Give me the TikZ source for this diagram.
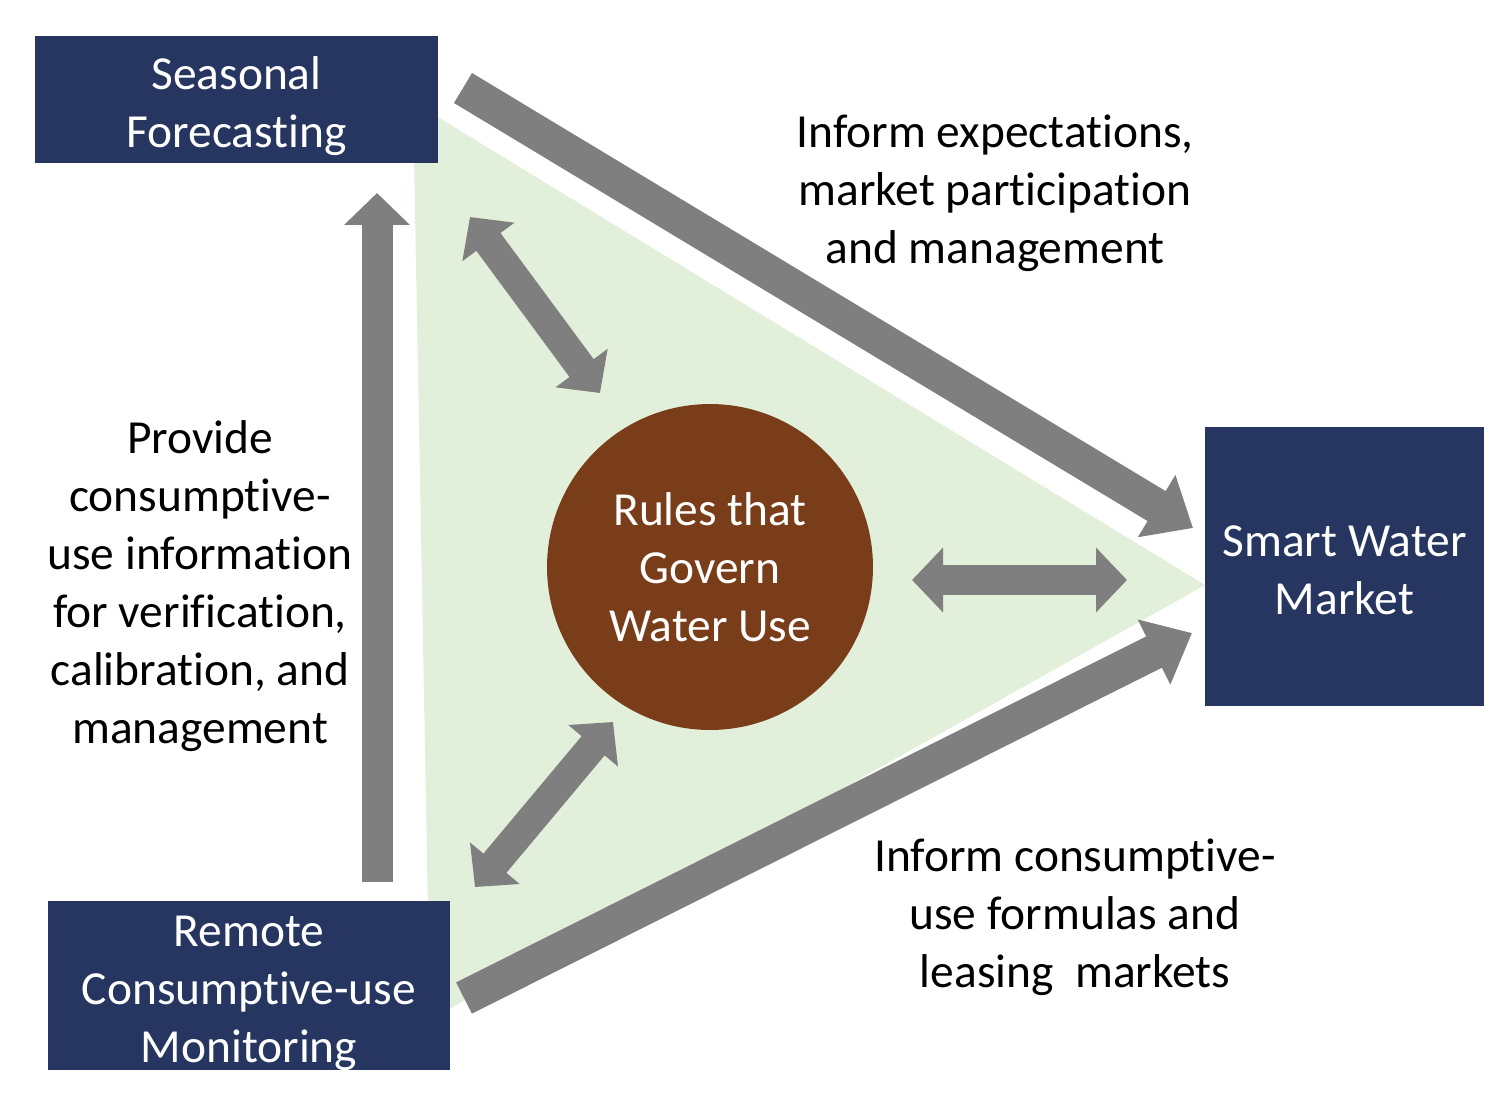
\documentclass[tikz,border=0pt]{standalone}
\usepackage{fontspec}
\setmainfont[Ligatures=NoCommon]{Carlito}
\usetikzlibrary{arrows.meta}
\definecolor{navy}{RGB}{38,54,96}
\definecolor{rulebrown}{RGB}{121,61,26}
\definecolor{palegreen}{RGB}{226,239,218}
\definecolor{arrowgray}{RGB}{127,127,127}
\newcommand{\lowtext}{\rule{0pt}{26pt}}
\begin{document}
\begin{tikzpicture}[x=0.02cm, y=-0.02cm,
  box/.style={rectangle, fill=navy, text=white, inner sep=0pt, align=center, font=\fontsize{27}{33}\selectfont},
  lbl/.style={align=center, inner sep=0pt, font=\fontsize{27}{33}\selectfont},
  bigarrow/.style={arrowgray, line width=0.7cm, -{Triangle[width=1.4cm, length=0.85cm]}},
  uparrow/.style={arrowgray, line width=0.62cm, -{Triangle[width=1.28cm, length=0.64cm]}},
  twoway/.style={arrowgray, line width=0.6cm, {Triangle[width=1.26cm, length=0.62cm]}-{Triangle[width=1.26cm, length=0.62cm]}}]
\useasboundingbox (0,0) rectangle (1511,1092);
\fill[palegreen] (413,102) -- (1205,585) -- (430,1020) -- cycle;
\node[box, minimum width=8.06cm, minimum height=2.54cm] (sf) at (236.5,99.5){\lowtext Seasonal\\Forecasting};
\node[box, minimum width=5.58cm, minimum height=5.58cm] (swm) at (1344.5,566.5){\rule{0pt}{22pt}Smart Water\\Market};
\node[box, minimum width=8.04cm, minimum height=3.3cm] (rcm) at (249,985.5){\lowtext Remote\\Consumptive-use\\Monitoring};
\node[circle, fill=rulebrown, text=white, minimum size=6.52cm, inner sep=0pt, align=center, font=\fontsize{27}{33}\selectfont] (rules) at (710,567){Rules that\\Govern\\Water Use};
\coordinate (a0) at (463,88);
\coordinate (a1) at (1193,528);
\coordinate (b0) at (464,998);
\coordinate (b1) at (1192,633);
\coordinate (c0) at (377,882);
\coordinate (c1) at (377,193);
\coordinate (d0) at (470,217);
\coordinate (d1) at (600,393);
\coordinate (e0) at (912,580);
\coordinate (e1) at (1127,580);
\coordinate (f0) at (475,887);
\coordinate (f1) at (613,722);
\draw[bigarrow](a0) -- (a1);
\draw[bigarrow](b0) -- (b1);
\draw[uparrow](c0) -- (c1);
\draw[twoway](d0) -- (d1);
\draw[twoway](e0) -- (e1);
\draw[twoway](f0) -- (f1);
\node[lbl] (inform) at (995,193){Inform expectations,\\market participation\\and management};
\node[lbl] (provide) at (200,586){Provide\\consumptive-\\use information\\for verification,\\calibration, and\\management};
\node[lbl] (leasing) at (1075,917){Inform consumptive-\\use formulas and\\leasing\ \ markets};
\end{tikzpicture}
\end{document}
